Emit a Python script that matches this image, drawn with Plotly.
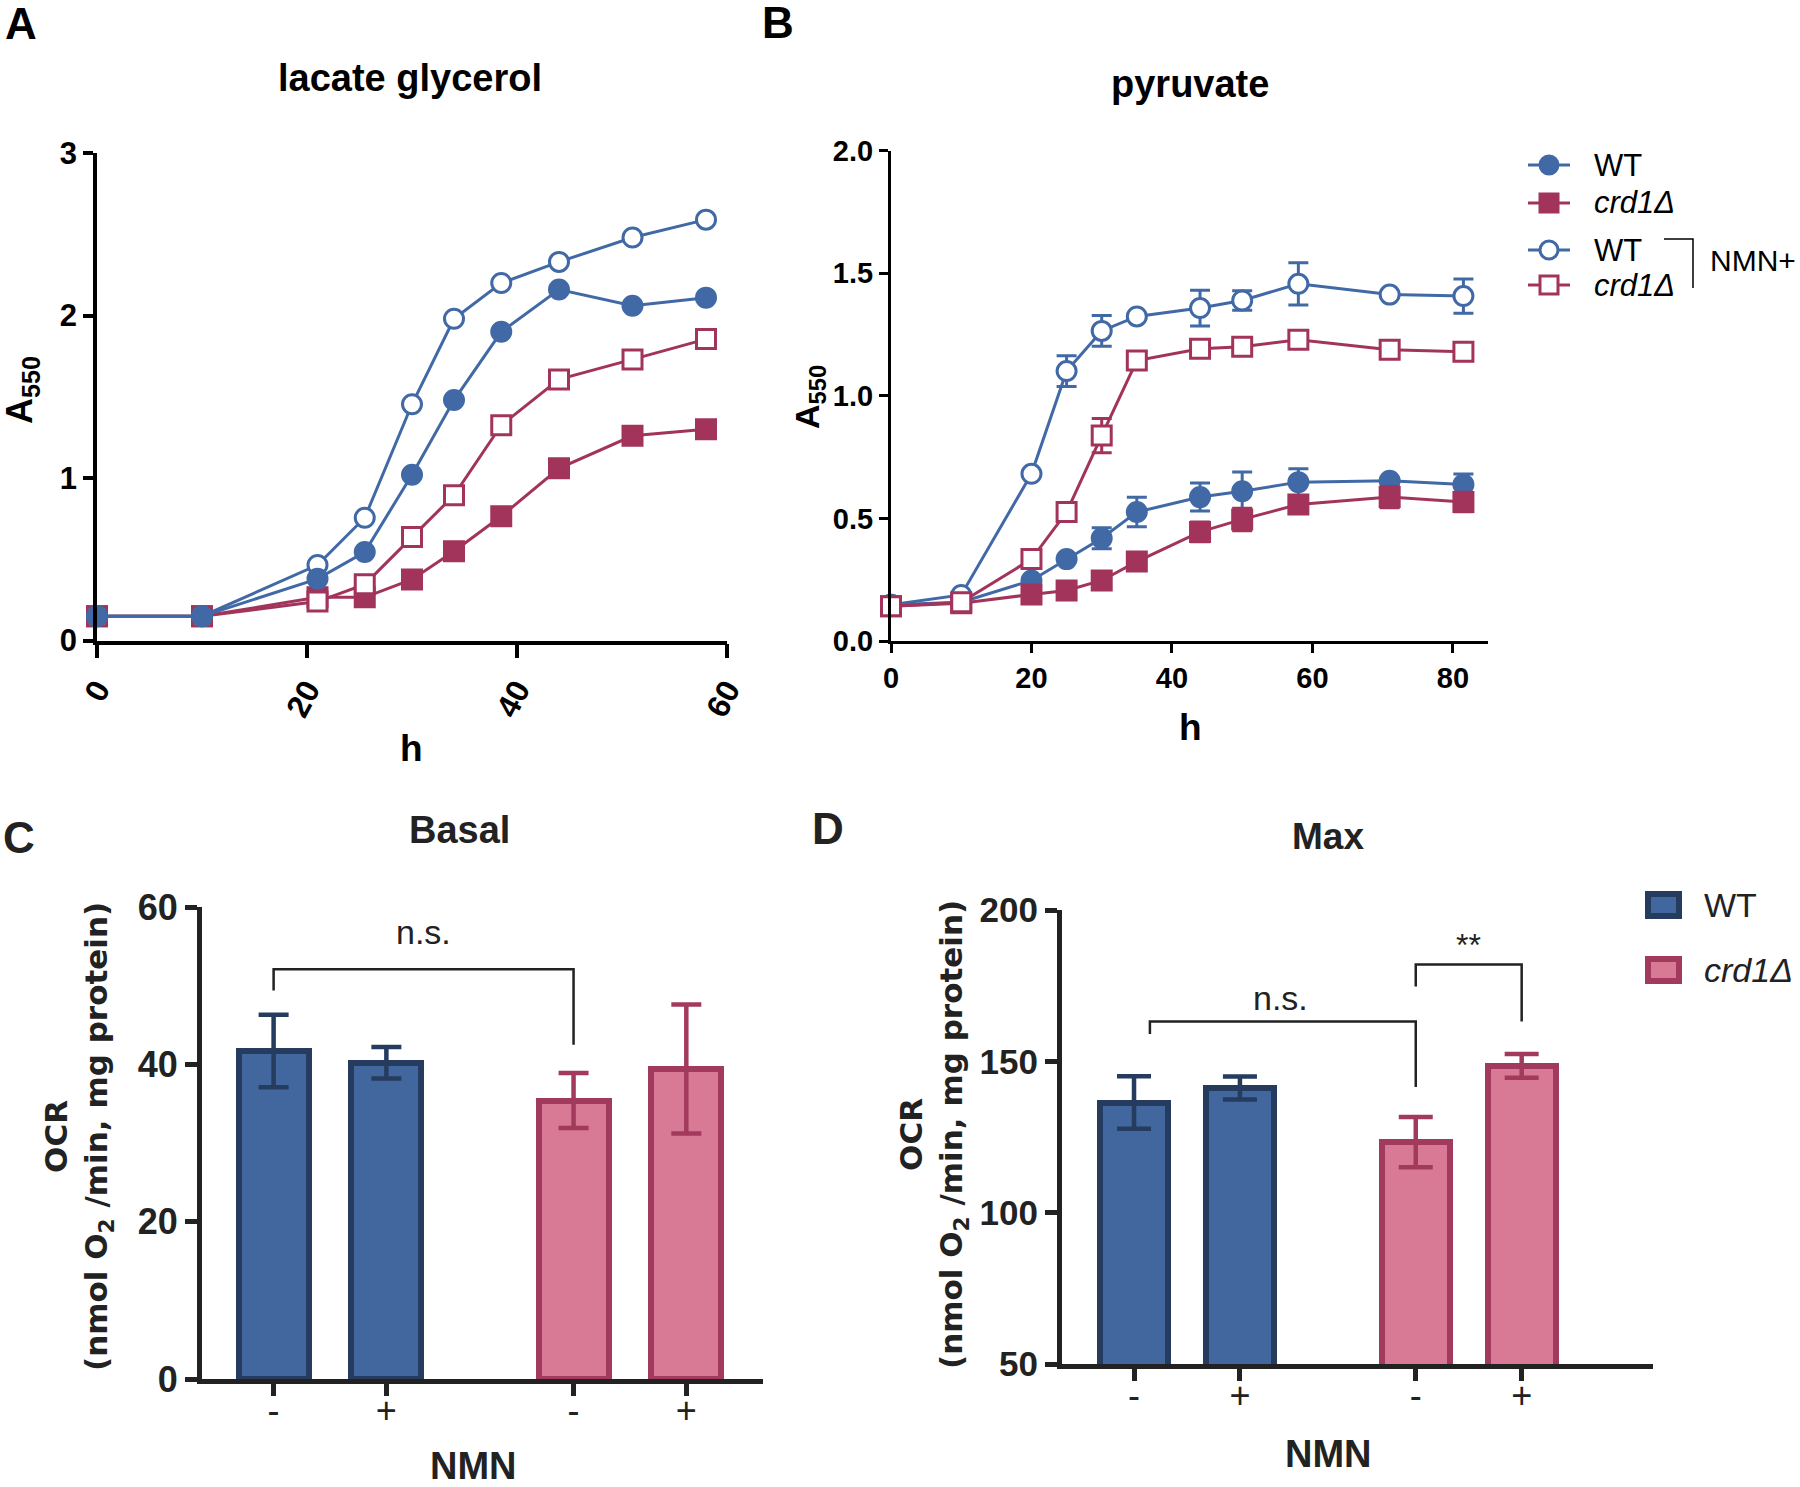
import plotly.graph_objects as go

# ---------------- data ----------------
# Panel A: lacate glycerol growth (A550 vs h)
hA = [0, 10, 21, 25.5, 30, 34, 38.5, 44, 51, 58]
A_wt = [0.15, 0.15, 0.38, 0.545, 1.02, 1.48, 1.90, 2.16, 2.06, 2.11]
A_crd = [0.15, 0.15, 0.266, 0.266, 0.376, 0.55, 0.765, 1.06, 1.26, 1.30]
A_wt_nmn = [0.15, 0.15, 0.465, 0.756, 1.454, 1.98, 2.20, 2.33, 2.48, 2.59]
A_crd_nmn = [0.15, 0.15, 0.24, 0.346, 0.637, 0.894, 1.325, 1.607, 1.73, 1.855]

# Panel B: pyruvate growth (A550 vs h) with SEM
hB = [0, 10, 20, 25, 30, 35, 44, 50, 58, 71, 81.5]
B_wt = [0.148, 0.158, 0.247, 0.334, 0.419, 0.526, 0.587, 0.611, 0.648, 0.654, 0.638]
B_wt_err = [0, 0, 0, 0, 0.043, 0.06, 0.057, 0.078, 0.055, 0.01, 0.043]
B_crd = [0.142, 0.154, 0.19, 0.206, 0.247, 0.324, 0.445, 0.496, 0.557, 0.587, 0.567]
B_crd_err = [0, 0, 0, 0, 0, 0, 0.04, 0.046, 0.02, 0.043, 0.04]
B_wt_nmn = [0.148, 0.188, 0.682, 1.101, 1.265, 1.324, 1.358, 1.389, 1.457, 1.413, 1.407]
B_wt_nmn_err = [0, 0, 0, 0.063, 0.063, 0.01, 0.073, 0.04, 0.086, 0.01, 0.07]
B_crd_nmn = [0.142, 0.158, 0.334, 0.526, 0.838, 1.144, 1.192, 1.2, 1.229, 1.188, 1.18]
B_crd_nmn_err = [0, 0, 0, 0.02, 0.07, 0, 0, 0, 0, 0, 0]

# Panels C / D: OCR bars
strains = ["WT", "crd1Δ"]
nmn_labels = ["-", "+"]
C_wt = [41.7, 40.2]
C_wt_err = [4.6, 2.0]
C_crd = [35.4, 39.4]
C_crd_err = [3.5, 8.2]
D_wt = [136.4, 141.2]
D_wt_err = [8.7, 3.8]
D_crd = [123.3, 148.5]
D_crd_err = [8.3, 3.9]

# ---------------- styling ----------------
W, H = 1800, 1487
BLUE = "#4169A6"
RED = "#A2345C"
BAR_BLUE = "#41679E"
BAR_BLUE_LINE = "#263C5F"
BAR_PINK = "#D87995"
BAR_PINK_LINE = "#A23A5E"
AX = "#222222"
ARIAL = "Liberation Sans, Arial, sans-serif"
NARROW = "Liberation Sans Narrow, Arial Narrow, Liberation Sans, Arial, sans-serif"
WIDE = "DejaVu Sans, Verdana, sans-serif"


def px(x):
    return x / W


def py(y):
    return 1 - y / H


fig = go.Figure()


def line_trace(x, y, color, symbol, filled, xa, ya, name, err=None):
    t = go.Scatter(
        x=x, y=y, mode="lines+markers", name=name, showlegend=False,
        xaxis=xa, yaxis=ya, cliponaxis=False,
        line=dict(color=color, width=3),
        marker=dict(symbol=symbol, size=19,
                    color=color if filled else "white",
                    line=dict(color=color, width=3)),
    )
    if err is not None:
        t.error_y = dict(type="data", array=err, color=color, thickness=3, width=10)
    return t


# Panel A
fig.add_trace(line_trace(hA, A_crd, RED, "square", True, "x", "y", "crd1Δ"))
fig.add_trace(line_trace(hA, A_crd_nmn, RED, "square", False, "x", "y", "crd1Δ NMN+"))
fig.add_trace(line_trace(hA, A_wt_nmn, BLUE, "circle", False, "x", "y", "WT NMN+"))
fig.add_trace(line_trace(hA, A_wt, BLUE, "circle", True, "x", "y", "WT"))

# Panel B
fig.add_trace(line_trace(hB, B_wt, BLUE, "circle", True, "x2", "y2", "WT", B_wt_err))
fig.add_trace(line_trace(hB, B_crd, RED, "square", True, "x2", "y2", "crd1Δ", B_crd_err))
fig.add_trace(line_trace(hB, B_wt_nmn, BLUE, "circle", False, "x2", "y2", "WT NMN+", B_wt_nmn_err))
fig.add_trace(line_trace(hB, B_crd_nmn, RED, "square", False, "x2", "y2", "crd1Δ NMN+", B_crd_nmn_err))

# Panels C, D bars
GAP = 2.66


def positions(gi):
    return [gi * GAP + ni for ni in range(len(nmn_labels))]


def bar_trace(gi, vals, errs, fill, edge, xa, ya, width, capw):
    return go.Bar(
        x=positions(gi), y=vals, width=width, xaxis=xa, yaxis=ya, showlegend=False,
        name=strains[gi],
        marker=dict(color=fill, line=dict(color=edge, width=6)),
        error_y=dict(type="data", array=errs, color=edge, thickness=4.5, width=capw),
    )


fig.add_trace(bar_trace(0, C_wt, C_wt_err, BAR_BLUE, BAR_BLUE_LINE, "x3", "y3", 0.62, 15))
fig.add_trace(bar_trace(1, C_crd, C_crd_err, BAR_PINK, BAR_PINK_LINE, "x3", "y3", 0.62, 15))
fig.add_trace(bar_trace(0, D_wt, D_wt_err, BAR_BLUE, BAR_BLUE_LINE, "x4", "y4", 0.64, 17))
fig.add_trace(bar_trace(1, D_crd, D_crd_err, BAR_PINK, BAR_PINK_LINE, "x4", "y4", 0.64, 17))

all_pos = positions(0) + positions(1)
all_txt = nmn_labels * 2

common_axis = dict(showline=True, ticks="outside", showgrid=False, zeroline=False,
                   mirror=False, automargin=False)

fig.update_layout(
    width=W, height=H, margin=dict(l=0, r=0, t=0, b=0, autoexpand=False),
    plot_bgcolor="white", paper_bgcolor="white", showlegend=False,
    bargap=0,
    # Panel A
    xaxis=dict(domain=[px(97), px(727)], range=[0, 60], anchor="y",
               tickvals=[0, 20, 40, 60], tickangle=-62,
               linecolor="black", linewidth=3.5, tickcolor="black", tickwidth=3.5, ticklen=14,
               tickfont=dict(family=ARIAL, size=32, color="black", weight="bold"),
               **common_axis),
    yaxis=dict(domain=[py(640.6), py(153)], range=[0, 3], anchor="x",
               tickvals=[0, 1, 2, 3],
               linecolor="black", linewidth=3.5, tickcolor="black", tickwidth=3.5, ticklen=10,
               tickfont=dict(family=ARIAL, size=31, color="black", weight="bold"),
               **common_axis),
    # Panel B
    xaxis2=dict(domain=[px(891), px(1488)], range=[0, 85], anchor="y2",
                tickvals=[0, 20, 40, 60, 80],
                linecolor="black", linewidth=3, tickcolor="black", tickwidth=3, ticklen=9,
                tickfont=dict(family=NARROW, size=29, color="black", weight="bold"),
                **common_axis),
    yaxis2=dict(domain=[py(641), py(150.7)], range=[0, 2], anchor="x2",
                tickvals=[0, 0.5, 1.0, 1.5, 2.0], tickformat=".1f",
                linecolor="black", linewidth=3, tickcolor="black", tickwidth=3, ticklen=9,
                tickfont=dict(family=NARROW, size=29, color="black", weight="bold"),
                **common_axis),
    # Panel C
    xaxis3=dict(domain=[px(202), px(763)], range=[-0.635, 4.34], anchor="y3",
                tickvals=all_pos, ticktext=all_txt, ticklabelstandoff=-16,
                linecolor=AX, linewidth=5, tickcolor=AX, tickwidth=4.5, ticklen=12,
                tickfont=dict(family=NARROW, size=36, color=AX),
                **common_axis),
    yaxis3=dict(domain=[py(1379), py(907)], range=[0, 60], anchor="x3",
                tickvals=[0, 20, 40, 60],
                linecolor=AX, linewidth=5, tickcolor=AX, tickwidth=4.5, ticklen=12,
                tickfont=dict(family=NARROW, size=36, color=AX, weight="bold"),
                **common_axis),
    # Panel D
    xaxis4=dict(domain=[px(1062), px(1653)], range=[-0.68, 4.9], anchor="y4",
                tickvals=all_pos, ticktext=all_txt, ticklabelstandoff=-16,
                linecolor=AX, linewidth=5, tickcolor=AX, tickwidth=4.5, ticklen=12,
                tickfont=dict(family=NARROW, size=36, color=AX),
                **common_axis),
    yaxis4=dict(domain=[py(1364), py(910)], range=[50, 200], anchor="x4",
                tickvals=[50, 100, 150, 200],
                linecolor=AX, linewidth=5, tickcolor=AX, tickwidth=4.5, ticklen=12,
                tickfont=dict(family=NARROW, size=35, color=AX, weight="bold"),
                **common_axis),
)

ann = []


def text(x, y, s, size, family=ARIAL, bold=True, angle=0, color="black", xanchor="center",
         xref="paper", yref="paper", conv=True):
    ann.append(dict(
        x=px(x) if conv else x, y=py(y) if conv else y, xref=xref, yref=yref, text=s,
        showarrow=False, textangle=angle, xanchor=xanchor, yanchor="middle",
        font=dict(family=family, size=size, color=color, weight="bold" if bold else "normal")))


# panel letters
text(21, 24, "A", 44)
text(778, 23, "B", 44)
text(19, 838, "C", 44, color=AX)
text(828, 828, "D", 44, color=AX)
# titles
text(410, 78, "lacate glycerol", 38)
text(1190, 84, "pyruvate", 38, family=NARROW)
text(459, 830, "Basal", 38, family=NARROW, color=AX)
text(1328, 836, "Max", 37, family=NARROW, color=AX)
# x titles
text(411, 748, "h", 37)
text(1190, 727, "h", 37)
text(473, 1466, "NMN", 38, family=NARROW, color=AX)
text(1328, 1454, "NMN", 38, family=NARROW, color=AX)
# y titles
text(22, 390, "A<sub>550</sub>", 36, angle=-90)
text(810, 397, "A<sub>550</sub>", 34, angle=-90)
text(78, 1137, "OCR<br>(nmol O<sub>2</sub> /min, mg protein)", 31, family=WIDE, angle=-90, color=AX)
text(933, 1135, "OCR<br>(nmol O<sub>2</sub> /min, mg protein)", 31, family=WIDE, angle=-90, color=AX)
# significance labels (data coordinates)
text((positions(0)[0] + positions(1)[0]) / 2, 56.8, "n.s.", 34, family=NARROW, bold=False,
     color=AX, xref="x3", yref="y3", conv=False)
text((positions(0)[0] + positions(1)[0]) / 2 + 0.05, 171, "n.s.", 34, family=NARROW, bold=False,
     color=AX, xref="x4", yref="y4", conv=False)
text((positions(1)[0] + positions(1)[1]) / 2, 188.5, "**", 32, family=NARROW, bold=False,
     color=AX, xref="x4", yref="y4", conv=False)

shapes = []

# ---- legend for panel B (drawn as glyphs) ----
leg_rows = [("WT", BLUE, "circle", True, 165),
            ("<i>crd1Δ</i>", RED, "square", True, 203),
            ("WT", BLUE, "circle", False, 250),
            ("<i>crd1Δ</i>", RED, "square", False, 285)]
for label, col, sym, filled, yy in leg_rows:
    shapes.append(dict(type="line", xref="paper", yref="paper",
                       x0=px(1528), x1=px(1570), y0=py(yy), y1=py(yy),
                       line=dict(color=col, width=3)))
    r = 9
    shapes.append(dict(type="circle" if sym == "circle" else "rect",
                       xref="paper", yref="paper",
                       x0=px(1549 - r), x1=px(1549 + r), y0=py(yy + r), y1=py(yy - r),
                       fillcolor=col if filled else "white", line=dict(color=col, width=3)))
    text(1592, yy, label, 31, bold=False, xanchor="left")

text(1708, 261, "NMN+", 30, bold=False, xanchor="left")
shapes.append(dict(type="path", xref="paper", yref="paper",
                   path=f"M{px(1664)},{py(239)} L{px(1693)},{py(239)} L{px(1693)},{py(288)}",
                   line=dict(color="black", width=1.5)))

# ---- legend for panels C/D ----
text(1702, 905, "WT", 34, bold=False, xanchor="left", color=AX)
text(1702, 970, "<i>crd1Δ</i>", 34, bold=False, xanchor="left", color=AX)
shapes.append(dict(type="rect", xref="paper", yref="paper",
                   x0=px(1648), x1=px(1679), y0=py(916), y1=py(894),
                   fillcolor=BAR_BLUE, line=dict(color=BAR_BLUE_LINE, width=6)))
shapes.append(dict(type="rect", xref="paper", yref="paper",
                   x0=px(1648), x1=px(1679), y0=py(981), y1=py(959),
                   fillcolor=BAR_PINK, line=dict(color=BAR_PINK_LINE, width=6)))


def bracket(xref, yref, x0, x1, y_left, y_top, y_right):
    shapes.append(dict(type="path", xref=xref, yref=yref,
                       path=f"M{x0},{y_left} L{x0},{y_top} L{x1},{y_top} L{x1},{y_right}",
                       line=dict(color=AX, width=2.5)))


bracket("x3", "y3", positions(0)[0], positions(1)[0], 49.4, 52.1, 42.5)
bracket("x4", "y4", positions(0)[0] + 0.15, positions(1)[0], 159, 163.2, 141.5)
bracket("x4", "y4", positions(1)[0], positions(1)[1], 174.7, 182, 163.2)

fig.update_layout(annotations=ann, shapes=shapes)
fig.write_html("out.html", config={"displayModeBar": False},
               post_script="document.body.style.margin='0px';document.body.style.overflow='hidden';")
